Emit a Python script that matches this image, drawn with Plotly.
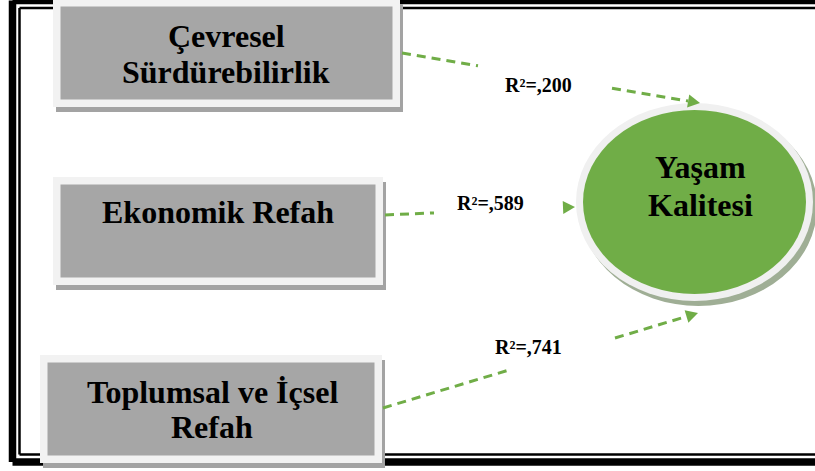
import plotly.graph_objects as go

# ---- data ----
source_labels = [["Çevresel", "Sürdürebilirlik"], ["Ekonomik Refah"], ["Toplumsal ve İçsel", "Refah"]]
target_label = ["Yaşam", "Kalitesi"]
r2_values = [0.200, 0.589, 0.741]

def r2_text(v):
    return "R²=," + f"{v:.3f}".split(".")[1]

# ---- layout (pixel geometry of the window, y down) ----
W, H = 815, 471
box_rects = [(53, -1, 400, 107), (53, 177, 383, 285), (40, 355, 382, 463)]
box_inset = 7.5
shadow_off = (3, 5)
text_lines_base = [[47, 83], [223], [403, 438]]
text_cx = [226, 218, 212]
circle_ring = (576, 103, 813, 301)
circle_inset = 7
circle_text_base = [178, 216]
circle_cx = 700
arrow_start = [(402, 53), (385, 215), (383, 408)]
arrow_tip = [(700, 103), (575, 207), (698, 313)]
gap_x = [(478, 612), (434, None), (512, 615)]
label_pos = [(538, 92), (490, 210), (528, 354)]

GREEN = "#70ad47"
FONT = "Liberation Serif, Times New Roman, serif"

shapes = []
annotations = []

# outer frame (thick + thin), open on the right side
def frame(xl, yt, yb, width):
    for (a, b, c, d) in [(xl, yt, W + 20, yt), (xl, yt, xl, yb), (xl, yb, W + 20, yb)]:
        shapes.append(dict(type="line", x0=a, y0=b, x1=c, y1=d, line=dict(color="black", width=width)))

frame(12.5, 0.5, 462, 7.5)
frame(19.5, 8, 454.5, 2.5)

# boxes
for (x0, y0, x1, y1) in box_rects:
    shapes.append(dict(type="rect", x0=x0 + shadow_off[0], y0=y0 + shadow_off[1], x1=x1 + shadow_off[0], y1=y1 + shadow_off[1],
                       line=dict(width=0), fillcolor="#a3a3a3"))
    shapes.append(dict(type="rect", x0=x0, y0=y0, x1=x1, y1=y1, line=dict(width=0), fillcolor="#f2f2f2"))
    shapes.append(dict(type="rect", x0=x0 + box_inset, y0=y0 + box_inset, x1=x1 - box_inset, y1=y1 - box_inset,
                       line=dict(width=0), fillcolor="#a6a6a6"))

# circle
cx0, cy0, cx1, cy1 = circle_ring
shapes.append(dict(type="circle", x0=cx0 + 4, y0=cy0 + 5, x1=cx1 + 4, y1=cy1 + 5, line=dict(width=0), fillcolor="#9fae95"))
shapes.append(dict(type="circle", x0=cx0, y0=cy0, x1=cx1, y1=cy1, line=dict(width=0), fillcolor="#f0f0f0"))
shapes.append(dict(type="circle", x0=cx0 + circle_inset, y0=cy0 + circle_inset, x1=cx1 - circle_inset, y1=cy1 - circle_inset,
                   line=dict(width=0), fillcolor=GREEN))

# arrows
head_len, head_half = 12, 6.5
for (sx, sy), (tx, ty), (g0, g1) in zip(arrow_start, arrow_tip, gap_x):
    dx, dy = tx - sx, ty - sy
    L = (dx * dx + dy * dy) ** 0.5
    ux, uy = dx / L, dy / L
    bx, by = tx - ux * head_len, ty - uy * head_len

    def pt(x):
        t = (x - sx) / dx
        return sx + t * dx, sy + t * dy

    segs = []
    gx0, gy0 = pt(g0)
    segs.append((sx, sy, gx0, gy0))
    if g1 is not None:
        gx1, gy1 = pt(g1)
        segs.append((gx1, gy1, bx, by))
    for (a, b, c, d) in segs:
        shapes.append(dict(type="line", x0=a, y0=b, x1=c, y1=d, line=dict(color=GREEN, width=3, dash="9px,6px")))
    px, py = -uy, ux
    path = (f"M {tx},{ty} L {bx + px * head_half},{by + py * head_half} "
            f"L {bx - px * head_half},{by - py * head_half} Z")
    shapes.append(dict(type="path", path=path, line=dict(width=0), fillcolor=GREEN))

# text
def add_text(txt, x, base, size):
    annotations.append(dict(text="<b>" + txt + "</b>", x=x, y=base - 0.33 * size, xref="x", yref="y", showarrow=False,
                            xanchor="center", yanchor="middle",
                            font=dict(family=FONT, size=size, color="black")))

for lines, bases, cx in zip(source_labels, text_lines_base, text_cx):
    for ln, b in zip(lines, bases):
        add_text(ln, cx, b, 32)
for ln, b in zip(target_label, circle_text_base):
    add_text(ln, circle_cx, b, 32)
for v, (lx, ly) in zip(r2_values, label_pos):
    add_text(r2_text(v), lx, ly, 20)

fig = go.Figure()
fig.update_layout(
    width=W, height=H, margin=dict(l=0, r=0, t=0, b=0),
    paper_bgcolor="white", plot_bgcolor="white",
    xaxis=dict(range=[0, W], visible=False, fixedrange=True),
    yaxis=dict(range=[H, 0], visible=False, fixedrange=True),
    shapes=shapes, annotations=annotations, showlegend=False,
)
fig.write_html("out.html", config={"displayModeBar": False},
               post_script="document.body.style.margin='0';document.body.style.overflow='hidden';")
